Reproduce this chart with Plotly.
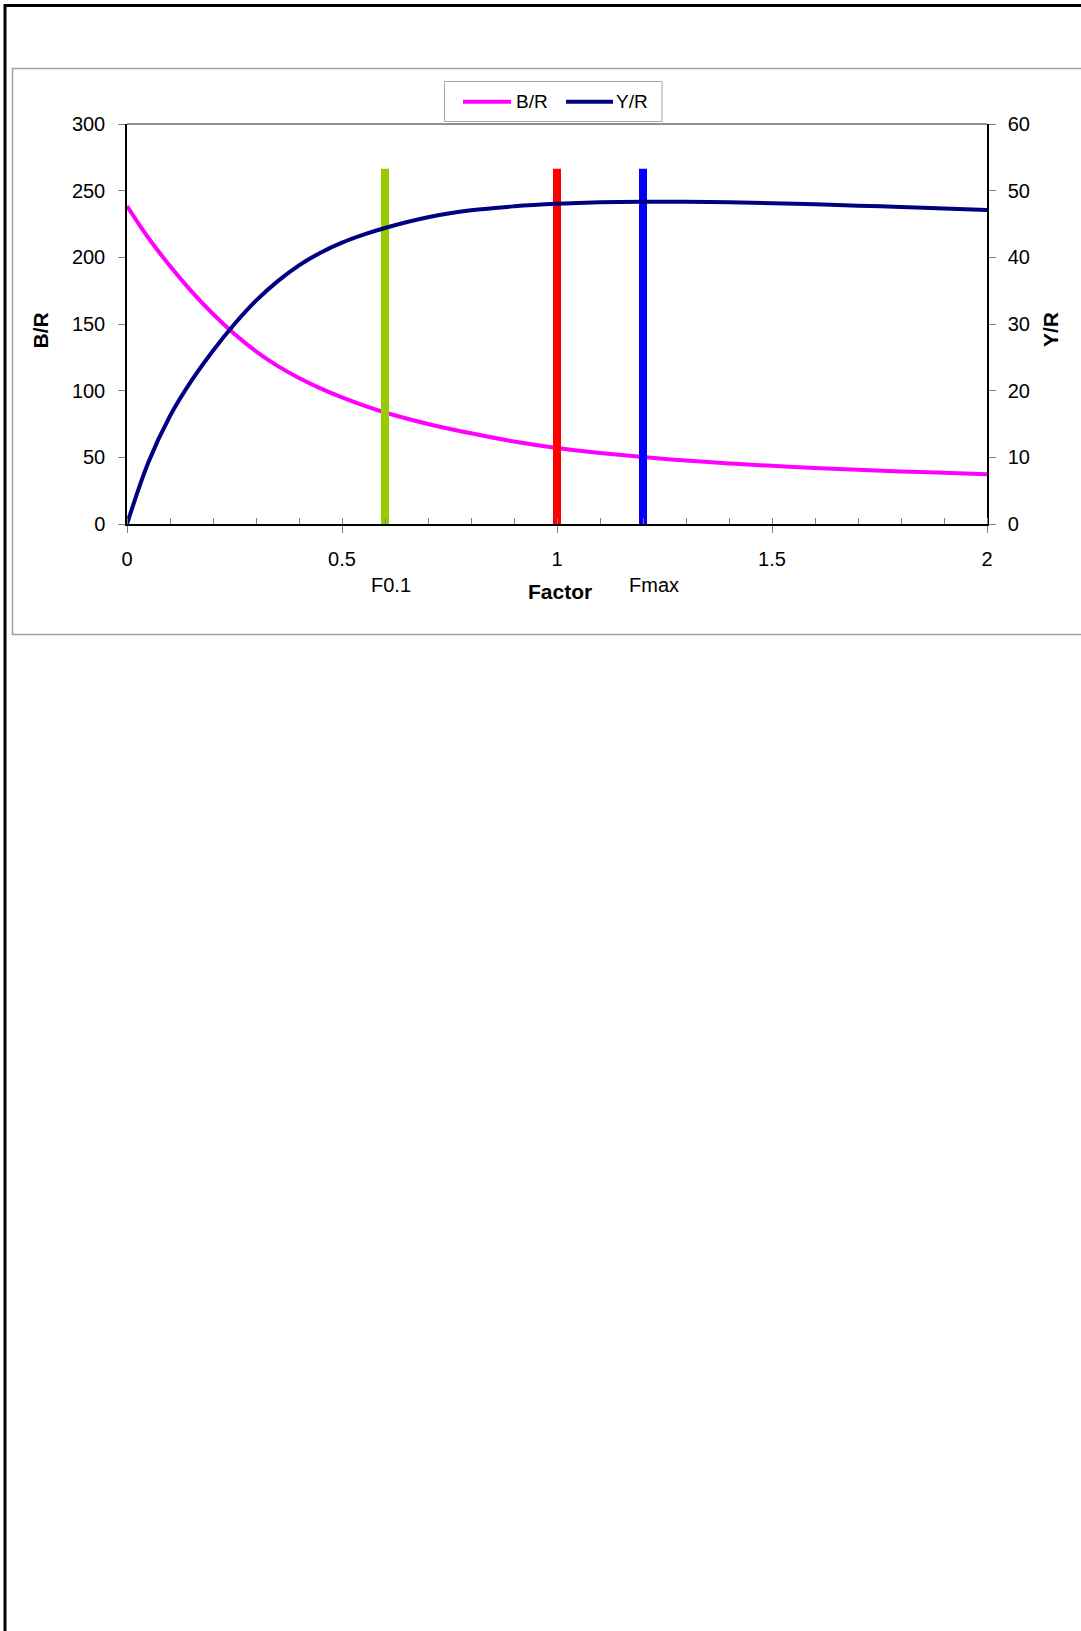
import plotly.graph_objects as go

# ---- data ----
factor = [0, 0.05, 0.1, 0.15, 0.2, 0.25, 0.3, 0.35, 0.4, 0.45, 0.5, 0.55, 0.6, 0.7, 0.8, 0.9, 1.0,
          1.1, 1.2, 1.3, 1.4, 1.5, 1.6, 1.7, 1.8, 1.9, 2.0]
b_r = [238.5, 214.5, 193.5, 174.5, 157.5, 142.5, 129.5, 118.6, 109.5, 101.7, 94.9, 88.9, 83.6,
       75.0, 68.0, 61.9, 57.0, 53.3, 50.2, 47.6, 45.4, 43.6, 42.0, 40.6, 39.4, 38.4, 37.4]
y_r = [0, 9.3, 16.2, 21.5, 26.0, 30.0, 33.5, 36.4, 38.8, 40.7, 42.2, 43.4, 44.4,
       46.0, 47.05, 47.65, 48.03, 48.25, 48.33, 48.33, 48.25, 48.12, 47.95, 47.75, 47.55, 47.33, 47.1]

series_names = ["B/R", "Y/R"]
series_colors = ["#ff00ff", "#000080"]

ref_f = [0.6, 1.0, 1.2]
ref_colors = ["#99cc00", "#ff0000", "#0000ff"]
ref_labels = ["F0.1", "", "Fmax"]
ref_label_shift = [6, 0, 11]
ref_span = [0, 266.5]  # vertical extent on B/R axis

x_ticks = [0, 0.5, 1, 1.5, 2]
x_ticktext = ["0", "0.5", "1", "1.5", "2"]

FONT = "Liberation Sans, Arial, Helvetica, sans-serif"

fig = go.Figure()

fig.add_trace(go.Scatter(x=factor, y=b_r, name=series_names[0], mode="lines",
                         line=dict(color=series_colors[0], width=4, shape="spline", smoothing=1.0),
                         yaxis="y", showlegend=False))
fig.add_trace(go.Scatter(x=factor, y=y_r, name=series_names[1], mode="lines",
                         line=dict(color=series_colors[1], width=4, shape="spline", smoothing=1.0),
                         yaxis="y2", showlegend=False))

for f, c in zip(ref_f, ref_colors):
    fig.add_trace(go.Scatter(x=[f, f], y=ref_span, mode="lines", showlegend=False,
                             line=dict(color=c, width=8), yaxis="y", hoverinfo="skip"))

# plot area geometry (pixels)
L, R, T, B = 127, 94, 124, 1107
W, H = 1081, 1631
pw, ph = W - L - R, H - T - B


def px(X):
    return (X - L) / pw


def py(Y):
    return (H - B - Y) / ph


shapes = [
    # outer black frame
    dict(type="rect", xref="paper", yref="paper", x0=px(5), x1=px(1100), y0=py(5.5), y1=py(1650),
         line=dict(color="black", width=3), layer="below"),
    # chart area grey frame
    dict(type="rect", xref="paper", yref="paper", x0=px(12.5), x1=px(1100), y0=py(68.5), y1=py(634.5),
         line=dict(color="#a0a0a0", width=1.5), layer="below"),
    # top border of plot area (grey)
    dict(type="line", xref="paper", yref="paper", x0=0, x1=1, y0=1, y1=1,
         line=dict(color="#909090", width=2)),
    # legend box
    dict(type="rect", xref="paper", yref="paper", x0=px(444.5), x1=px(662), y0=py(81.5), y1=py(121.5),
         line=dict(color="#a8a8a8", width=1), fillcolor="white"),
]

annotations = []
# custom legend entries
leg_line_x = [(463, 511), (566, 613)]
leg_text_x = [514, 614]
leg_y = 101.7
for name, col, (a, b), tx in zip(series_names, series_colors, leg_line_x, leg_text_x):
    shapes.append(dict(type="line", xref="paper", yref="paper", x0=px(a), x1=px(b),
                       y0=py(leg_y), y1=py(leg_y), line=dict(color=col, width=4)))
    annotations.append(dict(x=px(tx), y=py(leg_y), xref="paper", yref="paper", text=name,
                            showarrow=False, xanchor="left", yanchor="middle",
                            font=dict(size=19, color="black", family=FONT)))

for f, lab, sh in zip(ref_f, ref_labels, ref_label_shift):
    if lab:
        annotations.append(dict(x=f, xref="x", y=py(585), yref="paper", text=lab, showarrow=False,
                                xshift=sh, font=dict(size=20, color="black", family=FONT),
                                xanchor="center", yanchor="middle"))

# axis titles
annotations += [
    dict(x=px(560), y=py(591), xref="paper", yref="paper", text="<b>Factor</b>", showarrow=False,
         xanchor="center", yanchor="middle", font=dict(size=21, color="black", family=FONT)),
    dict(x=px(39.5), y=py(331), xref="paper", yref="paper", text="<b>B/R</b>", showarrow=False,
         textangle=-90, xanchor="center", yanchor="middle",
         font=dict(size=21, color="black", family=FONT)),
    dict(x=px(1050), y=py(330), xref="paper", yref="paper", text="<b>Y/R</b>", showarrow=False,
         textangle=-90, xanchor="center", yanchor="middle",
         font=dict(size=21, color="black", family=FONT)),
]

fig.update_layout(
    width=W, height=H,
    margin=dict(l=L, r=R, t=T, b=B, pad=0),
    paper_bgcolor="white", plot_bgcolor="white",
    font=dict(family=FONT, size=20, color="black"),
    showlegend=False,
    xaxis=dict(range=[0, 2], tickvals=x_ticks, ticktext=x_ticktext,
               ticks="outside", ticklen=7, tickcolor="#808080", tickwidth=1,
               minor=dict(dtick=0.1, ticks="inside", ticklen=6, tickcolor="#808080", tickwidth=1,
                          showgrid=False),
               showline=True, linecolor="black", linewidth=2, showgrid=False, zeroline=False,
               ticklabelstandoff=9),
    yaxis=dict(range=[0, 300], dtick=50, ticks="outside", ticklen=7, tickcolor="#808080",
               showline=True, linecolor="black", linewidth=1.5, showgrid=False, zeroline=False,
               ticklabelstandoff=9),
    yaxis2=dict(range=[0, 60], dtick=10, ticks="outside", ticklen=7, tickcolor="#808080",
                overlaying="y", side="right",
                showline=True, linecolor="black", linewidth=1.5, showgrid=False, zeroline=False,
                ticklabelstandoff=8),
    shapes=shapes,
    annotations=annotations,
)

fig.write_html("out.html", config={"displayModeBar": False},
               post_script="document.body.style.margin='0';document.body.style.overflow='hidden';")
